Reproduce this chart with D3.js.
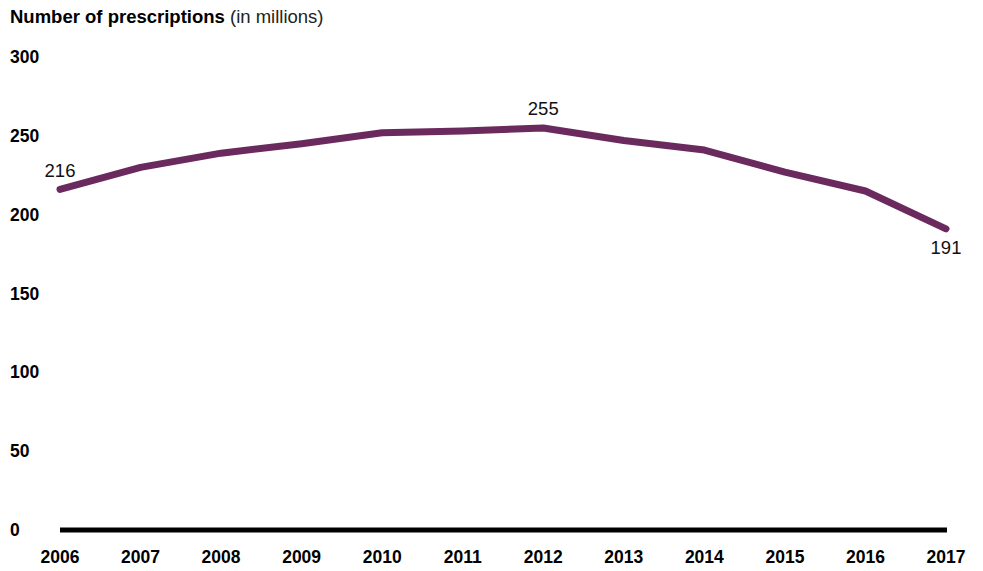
<!DOCTYPE html>
<html><head><meta charset="utf-8">
<script src="https://cdn.jsdelivr.net/npm/d3@7"></script>
<style>body{margin:0;background:#fff;} svg{display:block;font-family:"Liberation Sans",Arial,sans-serif;}</style>
</head><body>
<svg id="c" width="983" height="571"></svg>
<script>
const years = [2006,2007,2008,2009,2010,2011,2012,2013,2014,2015,2016,2017];
const prescriptions = [216,230,239,245,252,253,255,247,241,227,215,191];
const yTicks = [0,50,100,150,200,250,300];
const labelled = [{year:2006,value:216,pos:"above"},{year:2012,value:255,pos:"above"},{year:2017,value:191,pos:"below"}];

const svg = d3.select("#c");
const x = d3.scaleLinear().domain([2006,2017]).range([60,946]);
const y = d3.scaleLinear().domain([0,300]).range([530,57]);

svg.append("text").attr("x",10).attr("y",23).attr("font-size",18.5)
  .call(t=>{t.append("tspan").attr("font-weight","bold").text("Number of prescriptions");
            t.append("tspan").attr("font-weight","normal").attr("fill","#222").text(" (in millions)");});

svg.selectAll(".yt").data(yTicks).enter().append("text")
  .attr("x",10).attr("y",d=>y(d)).attr("dy","0.35em")
  .attr("font-size",17.5).attr("font-weight","bold").text(d=>d);

svg.append("line").attr("x1",x(2006)).attr("x2",x(2017)+1).attr("y1",y(0)).attr("y2",y(0))
  .attr("stroke","#000").attr("stroke-width",5);

svg.selectAll(".xt").data(years).enter().append("text")
  .attr("x",d=>x(d)).attr("y",557).attr("dy","0.35em").attr("text-anchor","middle")
  .attr("font-size",17.5).attr("font-weight","bold").text(d=>d);

const line = d3.line().x((d,i)=>x(years[i])).y(d=>y(d));
svg.append("path").datum(prescriptions).attr("d",line).attr("fill","none")
  .attr("stroke","#6b2a5e").attr("stroke-width",7).attr("stroke-linecap","round").attr("stroke-linejoin","round");

svg.selectAll(".dl").data(labelled).enter().append("text")
  .attr("x",d=>x(d.year)).attr("y",d=>d.pos==="above"? y(d.value)-19 : y(d.value)+19)
  .attr("dy","0.35em").attr("text-anchor","middle").attr("font-size",18.5).attr("fill","#111")
  .text(d=>d.value);
</script>
</body></html>
